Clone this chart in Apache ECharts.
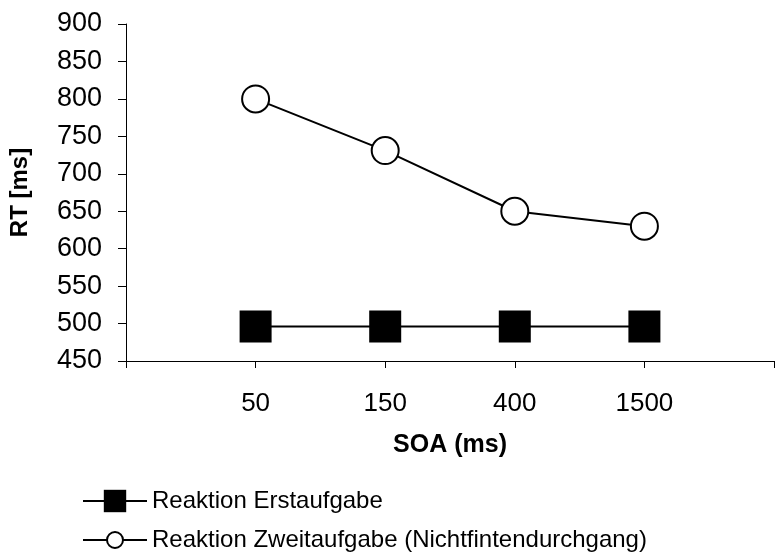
<!DOCTYPE html>
<html>
<head>
<meta charset="utf-8">
<script src="https://cdn.jsdelivr.net/npm/echarts@6/dist/echarts.min.js"></script>
<style>
  html, body { margin: 0; padding: 0; background: #fff; }
  #chart { width: 777px; height: 554px; }
</style>
</head>
<body>
<div id="chart"></div>
<script>
// SOA conditions (ms) and mean reaction times (ms)
const soaLabels = ['50', '150', '400', '1500'];
const rtErstaufgabe = [496, 496, 496, 496];
const rtZweitaufgabe = [800, 731, 650, 630];
const yTicks = { min: 450, max: 900, step: 50 };

const nameErst = 'Reaktion Erstaufgabe';
const nameZweit = 'Reaktion Zweitaufgabe (Nichtfintendurchgang)';

// one empty slot on each side so the points sit between the axis ends
const axisCats = [''].concat(soaLabels, ['']);
const pad = (arr) => [null].concat(arr, [null]);

const font = 'Liberation Sans, Arial, sans-serif';

const chart = echarts.init(document.getElementById('chart'), null, { renderer: 'canvas' });
chart.setOption({
  animation: false,
  backgroundColor: '#ffffff',
  grid: { left: 125, width: 656, top: 24, bottom: 193, containLabel: false },
  xAxis: {
    type: 'category',
    data: axisCats,
    boundaryGap: false,
    name: 'SOA (ms)',
    nameLocation: 'middle',
    nameGap: 72,
    nameTextStyle: { fontFamily: font, fontSize: 25, fontWeight: 'bold', color: '#000' },
    axisLine: { lineStyle: { color: '#000', width: 1 } },
    axisTick: { show: true, length: 7, alignWithLabel: true, lineStyle: { color: '#000' } },
    axisLabel: { fontFamily: font, fontSize: 26, color: '#000', margin: 30, interval: 0 },
    splitLine: { show: false }
  },
  yAxis: {
    type: 'value',
    min: yTicks.min,
    max: yTicks.max,
    interval: yTicks.step,
    name: 'RT [ms]',
    nameLocation: 'middle',
    nameRotate: 90,
    nameGap: 94,
    nameTextStyle: { fontFamily: font, fontSize: 24, fontWeight: 'bold', color: '#000' },
    axisLine: { show: true, lineStyle: { color: '#000', width: 1 } },
    axisTick: { show: true, length: 8, lineStyle: { color: '#000' } },
    axisLabel: { fontFamily: font, fontSize: 27, color: '#000', margin: 24 },
    splitLine: { show: false }
  },
  legend: [
    {
      data: [nameErst],
      orient: 'vertical',
      left: 82,
      top: 487,
      padding: 0,
      itemWidth: 64,
      itemHeight: 28,
      textStyle: { fontFamily: font, fontSize: 24, color: '#000', lineHeight: 28 }
    },
    {
      data: [nameZweit],
      orient: 'vertical',
      left: 82,
      top: 526,
      padding: 0,
      itemWidth: 64,
      itemHeight: 20,
      textStyle: { fontFamily: font, fontSize: 24, color: '#000', lineHeight: 28 }
    }
  ],
  series: [
    {
      name: nameErst,
      type: 'line',
      data: pad(rtErstaufgabe),
      symbol: 'rect',
      symbolSize: 32,
      showAllSymbol: true,
      lineStyle: { color: '#000', width: 2 },
      itemStyle: { color: '#000', borderColor: '#000', borderWidth: 0 },
      z: 2
    },
    {
      name: nameZweit,
      type: 'line',
      data: pad(rtZweitaufgabe),
      symbol: 'circle',
      symbolSize: 27,
      showAllSymbol: true,
      lineStyle: { color: '#000', width: 2 },
      itemStyle: { color: '#fff', borderColor: '#000', borderWidth: 2 },
      z: 3
    }
  ]
});
</script>
</body>
</html>
